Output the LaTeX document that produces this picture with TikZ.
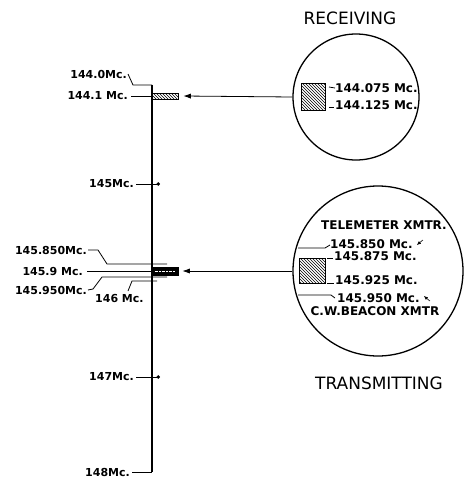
\documentclass[tikz,border=0pt]{standalone}
\usepackage{fontspec}
\setmainfont{DejaVu Sans}
\usetikzlibrary{arrows.meta,positioning,calc,patterns}

\begin{document}
\begin{tikzpicture}[x=1pt,y=-1pt,
 freq/.style={inner sep=0pt,font=\fontsize{11}{11}\selectfont\bfseries},
 inlbl/.style={inner sep=0pt,anchor=west,font=\fontsize{12}{12}\selectfont\bfseries},
 heading/.style={inner sep=0pt,font=\fontsize{17}{17}\selectfont},
 lens/.style={circle,draw,line width=1.3pt,inner sep=0pt},
 band/.style={draw,thick,inner sep=0pt,pattern=north west lines},
 leader/.style={thick},
 tick/.style={thick,-{Circle[length=3.5pt]}},
 feed/.style={-{Latex[length=2.6mm,width=1.8mm]},thick},
 hint/.style={-{Latex[length=1.4mm,width=1.2mm]},semithick}
]
\useasboundingbox (0,0) rectangle (470,480);

% frequency scale
\coordinate (top) at (152,85);
\coordinate (bot) at (152,472);
\draw[line width=1.1pt] (top) -- (bot);

\node[freq,anchor=east] (f1440) at (127,74) {144.0Mc.};
\draw[leader] ([xshift=1pt]f1440.east) -- (133,85) -- (top);
\node[band,minimum width=26pt,minimum height=6pt] (rxband) at (165,96) {};
\node[freq,anchor=east] (f1441) at (128,96) {144.1 Mc.};
\draw[leader] ([xshift=3pt]f1441.east) -- (rxband.west);

\node[freq,anchor=east] (f145) at (134,184) {145Mc.};
\draw[tick] ([xshift=2pt]f145.east) -- (160,184);

\node[draw,thick,fill=black,inner sep=0pt,minimum width=26pt,minimum height=8pt] (txband) at (165,271) {};
\draw[white,densely dotted] ([xshift=3pt]txband.west) -- ([xshift=-3pt]txband.east);
\node[freq,anchor=east] (f145850) at (87,250) {145.850Mc.};
\draw[leader] ([xshift=1pt]f145850.east) -- (98,250) -- (107,264) -- (167,264);
\node[freq,anchor=east] (f1459) at (83,271) {145.9 Mc.};
\draw[leader] ([xshift=4pt]f1459.east) -- (txband.west);
\node[freq,anchor=east] (f145950) at (87,290) {145.950Mc.};
\draw[leader] ([xshift=1pt]f145950.east) -- (93,289) -- (102,277) -- (167,277);
\node[freq,anchor=west] (f146) at (95,298) {146 Mc.};
\draw[leader] (128,291) -- (132,281) -- (157,281);

\node[freq,anchor=east] (f147) at (134,377) {147Mc.};
\draw[tick] ([xshift=2pt]f147.east) -- (160,377);

\node[freq,anchor=east] (f148) at (130,472) {148Mc.};
\draw[leader] ([xshift=2pt]f148.east) -- (bot);

% receiving window
\node[heading] (rxtitle) at (350,18) {RECEIVING};
\node[lens,minimum size=126pt] (rx) at (356,97) {};
\node[band,minimum width=24pt,minimum height=27pt] (rxbox) at (313,96.5) {};
\node[inlbl] (r075) at (335,88) {144.075 Mc.};
\node[inlbl] (r125) at (335,105) {144.125 Mc.};
\draw[leader] (329,87) -- (r075.west);
\draw[leader] (329,107) -- (334,107);
\draw[feed] (rx.west) -- ([xshift=5pt]rxband.east);

% transmitting window
\node[lens,minimum size=170pt] (tx) at (378,271) {};
\node[band,minimum width=26pt,minimum height=25pt] (txbox) at (312,270.5) {};
\node[inlbl,anchor=center] (tele) at (384,225) {TELEMETER XMTR.};
\node[inlbl] (t850) at (330,244) {145.850 Mc.};
\draw[leader] (298,248) -- (325,248) -- ([yshift=-1pt]t850.west);
\draw[hint] ($(t850.east)+(10,-4)$) -- ($(t850.east)+(4,1)$);
\node[inlbl] (t875) at (334,256) {145.875 Mc.};
\draw[leader] (327,258) -- (333,258);
\node[inlbl] (t925) at (335,280) {145.925 Mc.};
\draw[leader] (327,283) -- (334,283);
\node[inlbl] (t950) at (337,298) {145.950 Mc.};
\draw[leader] (298,295) -- (331,295) -- (335,298);
\draw[hint] ($(t950.east)+(10,3)$) -- ($(t950.east)+(4,-2)$);
\node[inlbl,anchor=center] (beacon) at (375,311) {C.W.BEACON XMTR};
\draw[feed] (tx.west) -- ([xshift=4pt]txband.east);
\node[heading] (txtitle) at (379,383) {TRANSMITTING};
\end{tikzpicture}
\end{document}
